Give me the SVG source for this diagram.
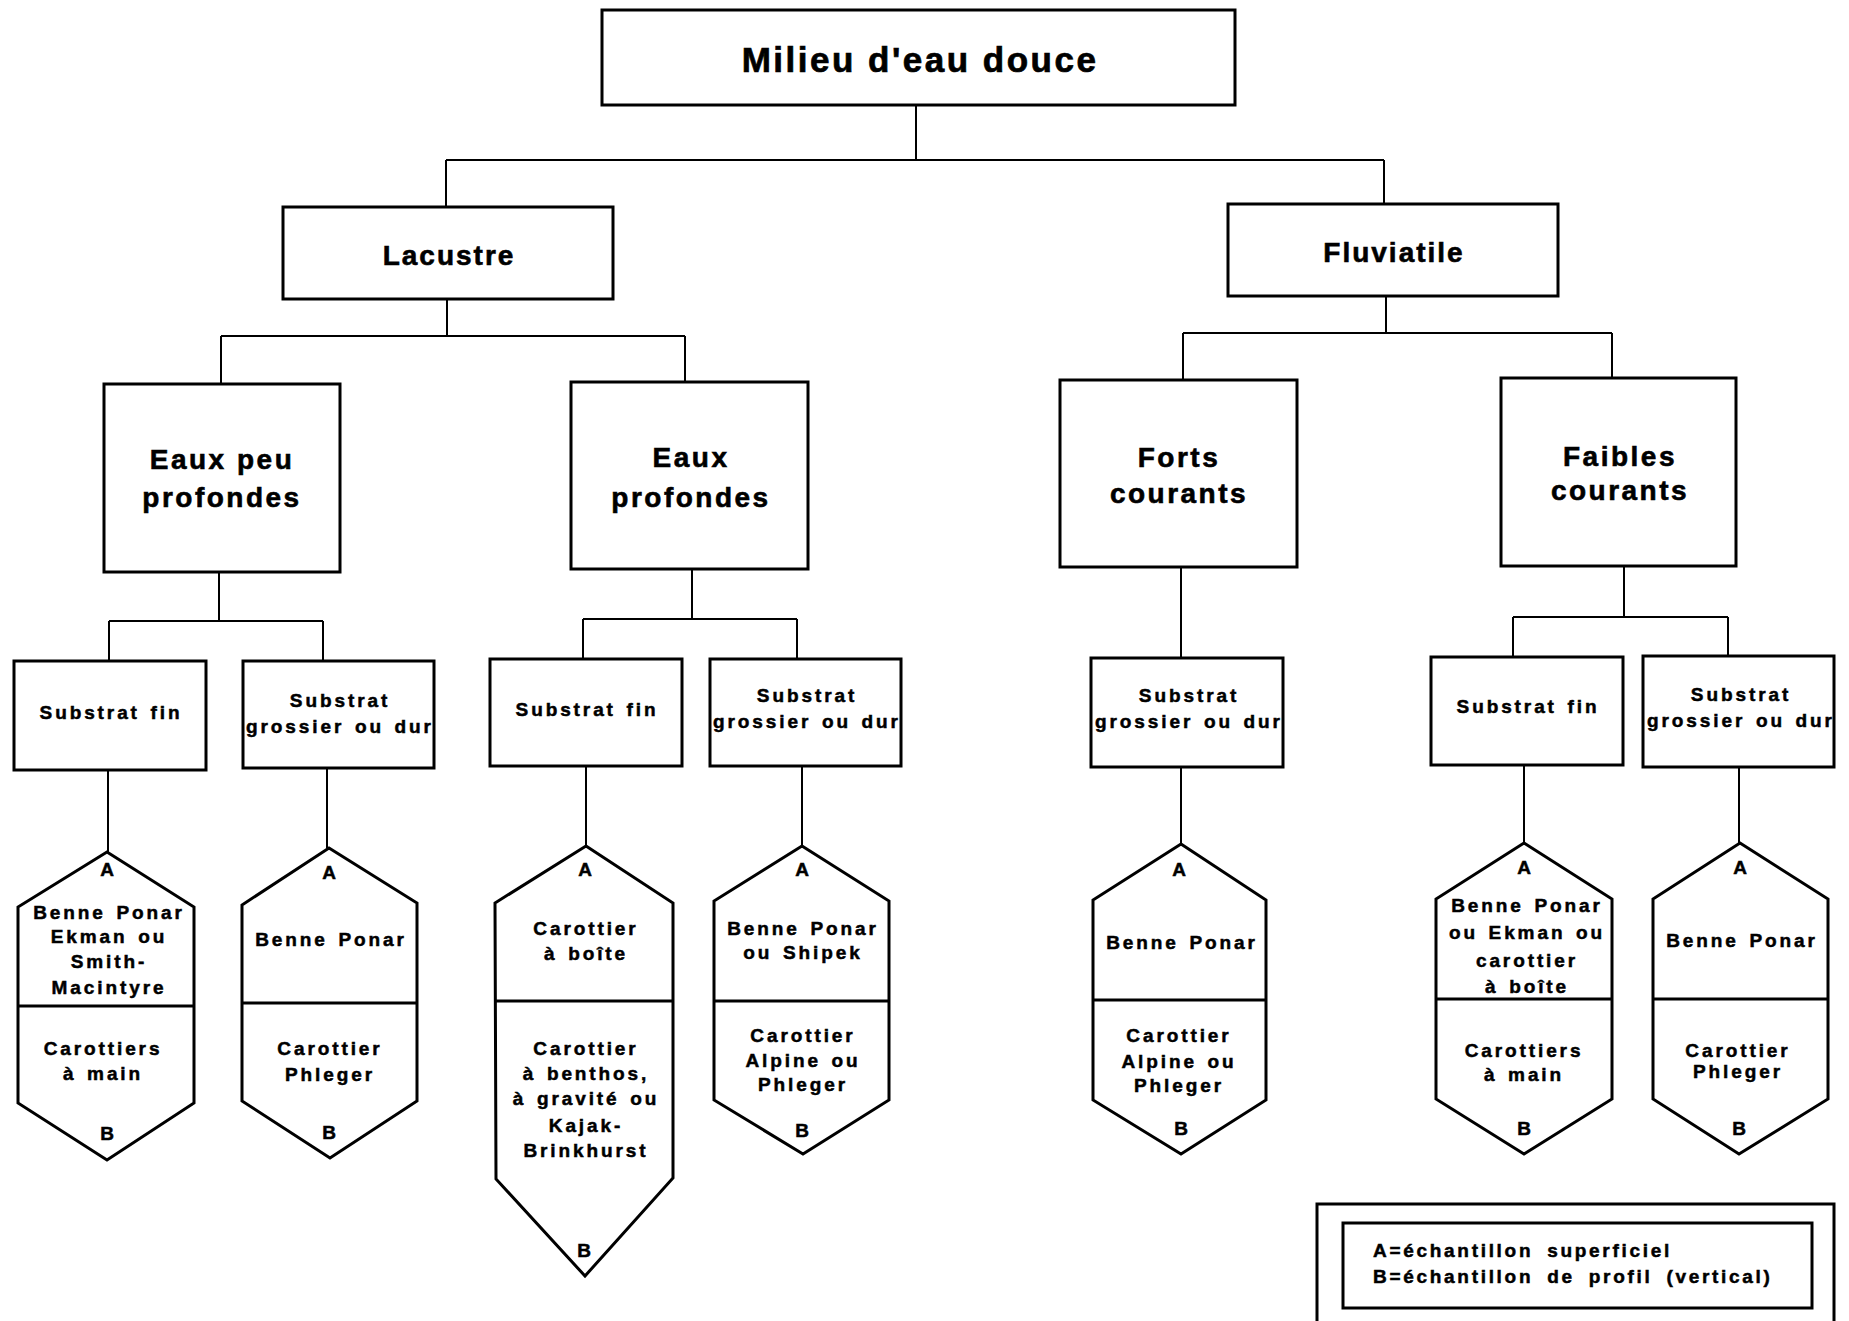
<svg xmlns="http://www.w3.org/2000/svg" width="1849" height="1321" viewBox="0 0 1849 1321">
  <style>
    .box { fill: #fff; stroke: #000; stroke-width: 3; }
    .hex { fill: #fff; stroke: #000; stroke-width: 3; stroke-linejoin: miter; }
    .div { stroke: #000; stroke-width: 3; }
    .link { fill: none; stroke: #000; stroke-width: 2; }
    text { font-family: "Liberation Sans", Arial, Helvetica, sans-serif; font-weight: bold; fill: #000; stroke: #000; stroke-width: 0.5; text-anchor: middle; }
    .t1 { font-size: 35px; letter-spacing: 2.5px; stroke-width: 0.7; }
    .t2 { font-size: 28px; letter-spacing: 2px; stroke-width: 0.6; }
    .t3 { font-size: 28px; letter-spacing: 2.5px; stroke-width: 0.6; }
    .t4 { font-size: 19px; letter-spacing: 2.9px; word-spacing: 2.5px; }
    .ab { font-size: 19px; }
    .leg { font-size: 19px; letter-spacing: 2.7px; word-spacing: 6px; text-anchor: start; }
  </style>
  <rect width="1849" height="1321" fill="#fff"/>

  <!-- tree connectors -->
  <g id="connectors">
    <path class="link" d="M916,105 V160 M446,160 H1384 M446,160 V207 M1384,160 V204"/>
    <path class="link" d="M447,299 V336 M221,336 H685 M221,336 V384 M685,336 V382"/>
    <path class="link" d="M1386,296 V333 M1183,333 H1612 M1183,333 V380 M1612,333 V378"/>
    <path class="link" d="M219,572 V621 M109,621 H323 M109,621 V662 M323,621 V661"/>
    <path class="link" d="M692,569 V619 M583,619 H797 M583,619 V659 M797,619 V659"/>
    <path class="link" d="M1181,567 V658"/>
    <path class="link" d="M1624,566 V617 M1513,617 H1728 M1513,617 V657 M1728,617 V656"/>
    <path class="link" d="M108,770 V852 M327,768 V848 M586,766 V846 M802,766 V846 M1181,767 V844 M1524,765 V843 M1739,767 V843"/>
  </g>

  <!-- root -->
  <g id="milieu">
    <rect class="box" x="602" y="10" width="633" height="95"/>
    <text class="t1" x="920" y="72">Milieu d'eau douce</text>
  </g>

  <!-- second level -->
  <g id="lacustre">
    <rect class="box" x="283" y="207" width="330" height="92"/>
    <text class="t2" x="449" y="265">Lacustre</text>
  </g>
  <g id="fluviatile">
    <rect class="box" x="1228" y="204" width="330" height="92"/>
    <text class="t2" x="1394" y="262">Fluviatile</text>
  </g>

  <!-- third level -->
  <g id="eaux-peu-profondes">
    <rect class="box" x="104" y="384" width="236" height="188"/>
    <text class="t3" x="222" y="469">Eaux peu</text>
    <text class="t3" x="222" y="507">profondes</text>
  </g>
  <g id="eaux-profondes">
    <rect class="box" x="571" y="382" width="237" height="187"/>
    <text class="t3" x="691" y="467">Eaux</text>
    <text class="t3" x="691" y="507">profondes</text>
  </g>
  <g id="forts-courants">
    <rect class="box" x="1060" y="380" width="237" height="187"/>
    <text class="t3" x="1179" y="467">Forts</text>
    <text class="t3" x="1179" y="503">courants</text>
  </g>
  <g id="faibles-courants">
    <rect class="box" x="1501" y="378" width="235" height="188"/>
    <text class="t3" x="1620" y="466">Faibles</text>
    <text class="t3" x="1620" y="500">courants</text>
  </g>

  <!-- substrate level -->
  <g id="lac-peu-fin">
    <rect class="box" x="14" y="661" width="192" height="109"/>
    <text class="t4" x="111" y="719">Substrat fin</text>
  </g>
  <g id="lac-peu-grossier">
    <rect class="box" x="243" y="661" width="191" height="107"/>
    <text class="t4" x="340" y="707">Substrat</text>
    <text class="t4" x="340" y="733">grossier ou dur</text>
  </g>
  <g id="lac-prof-fin">
    <rect class="box" x="490" y="659" width="192" height="107"/>
    <text class="t4" x="587" y="716">Substrat fin</text>
  </g>
  <g id="lac-prof-grossier">
    <rect class="box" x="710" y="659" width="191" height="107"/>
    <text class="t4" x="807" y="702">Substrat</text>
    <text class="t4" x="807" y="728">grossier ou dur</text>
  </g>
  <g id="flu-forts-grossier">
    <rect class="box" x="1091" y="658" width="192" height="109"/>
    <text class="t4" x="1189" y="702">Substrat</text>
    <text class="t4" x="1189" y="728">grossier ou dur</text>
  </g>
  <g id="flu-faibles-fin">
    <rect class="box" x="1431" y="657" width="192" height="108"/>
    <text class="t4" x="1528" y="713">Substrat fin</text>
  </g>
  <g id="flu-faibles-grossier">
    <rect class="box" x="1643" y="656" width="191" height="111"/>
    <text class="t4" x="1741" y="701">Substrat</text>
    <text class="t4" x="1741" y="727">grossier ou dur</text>
  </g>

  <!-- sampler hexagons: A = surface sample (top), B = profile sample (bottom) -->
  <g id="samp-1">
    <path class="hex" d="M107,852 L194,907 L194,1103 L107,1160 L18,1103 L18,907 Z"/>
    <line class="div" x1="18" y1="1006" x2="194" y2="1006"/>
    <text class="ab" x="107" y="876">A</text>
    <text class="t4" x="109" y="919">Benne Ponar</text>
    <text class="t4" x="109" y="943">Ekman ou</text>
    <text class="t4" x="109" y="968">Smith-</text>
    <text class="t4" x="109" y="994">Macintyre</text>
    <text class="t4" x="103" y="1055">Carottiers</text>
    <text class="t4" x="103" y="1080">à main</text>
    <text class="ab" x="107" y="1140">B</text>
  </g>
  <g id="samp-2">
    <path class="hex" d="M329,848 L417,903 L417,1101 L330,1158 L242,1101 L242,905 Z"/>
    <line class="div" x1="242" y1="1003" x2="417" y2="1003"/>
    <text class="ab" x="329" y="879">A</text>
    <text class="t4" x="331" y="946">Benne Ponar</text>
    <text class="t4" x="330" y="1055">Carottier</text>
    <text class="t4" x="330" y="1081">Phleger</text>
    <text class="ab" x="329" y="1139">B</text>
  </g>
  <g id="samp-3">
    <path class="hex" d="M586,846 L673,903 L673,1178 L585,1276 L496,1179 L495,903 Z"/>
    <line class="div" x1="495" y1="1001" x2="673" y2="1001"/>
    <text class="ab" x="585" y="876">A</text>
    <text class="t4" x="586" y="935">Carottier</text>
    <text class="t4" x="586" y="960">à boîte</text>
    <text class="t4" x="586" y="1055">Carottier</text>
    <text class="t4" x="586" y="1080">à benthos,</text>
    <text class="t4" x="586" y="1105">à gravité ou</text>
    <text class="t4" x="586" y="1132">Kajak-</text>
    <text class="t4" x="586" y="1157">Brinkhurst</text>
    <text class="ab" x="584" y="1257">B</text>
  </g>
  <g id="samp-4">
    <path class="hex" d="M802,846 L889,901 L889,1100 L803,1154 L714,1100 L714,901 Z"/>
    <line class="div" x1="714" y1="1001" x2="889" y2="1001"/>
    <text class="ab" x="802" y="876">A</text>
    <text class="t4" x="803" y="935">Benne Ponar</text>
    <text class="t4" x="803" y="959">ou Shipek</text>
    <text class="t4" x="803" y="1042">Carottier</text>
    <text class="t4" x="803" y="1067">Alpine ou</text>
    <text class="t4" x="803" y="1091">Phleger</text>
    <text class="ab" x="802" y="1137">B</text>
  </g>
  <g id="samp-5">
    <path class="hex" d="M1181,844 L1266,900 L1266,1100 L1181,1154 L1093,1100 L1093,900 Z"/>
    <line class="div" x1="1093" y1="1000" x2="1266" y2="1000"/>
    <text class="ab" x="1179" y="876">A</text>
    <text class="t4" x="1182" y="949">Benne Ponar</text>
    <text class="t4" x="1179" y="1042">Carottier</text>
    <text class="t4" x="1179" y="1068">Alpine ou</text>
    <text class="t4" x="1179" y="1092">Phleger</text>
    <text class="ab" x="1181" y="1135">B</text>
  </g>
  <g id="samp-6">
    <path class="hex" d="M1524,843 L1612,899 L1612,1099 L1524,1154 L1436,1099 L1436,899 Z"/>
    <line class="div" x1="1436" y1="999" x2="1612" y2="999"/>
    <text class="ab" x="1524" y="874">A</text>
    <text class="t4" x="1527" y="912">Benne Ponar</text>
    <text class="t4" x="1527" y="939">ou Ekman ou</text>
    <text class="t4" x="1527" y="967">carottier</text>
    <text class="t4" x="1527" y="993">à boîte</text>
    <text class="t4" x="1524" y="1057">Carottiers</text>
    <text class="t4" x="1524" y="1081">à main</text>
    <text class="ab" x="1524" y="1135">B</text>
  </g>
  <g id="samp-7">
    <path class="hex" d="M1740,843 L1828,899 L1828,1099 L1739,1154 L1653,1099 L1653,899 Z"/>
    <line class="div" x1="1653" y1="999" x2="1828" y2="999"/>
    <text class="ab" x="1740" y="874">A</text>
    <text class="t4" x="1742" y="947">Benne Ponar</text>
    <text class="t4" x="1738" y="1057">Carottier</text>
    <text class="t4" x="1738" y="1078">Phleger</text>
    <text class="ab" x="1739" y="1135">B</text>
  </g>

  <!-- key -->
  <g id="legend">
    <rect class="box" x="1317" y="1204" width="517" height="140"/>
    <rect class="box" x="1343" y="1223" width="469" height="85"/>
    <text class="leg" x="1373" y="1257">A=échantillon superficiel</text>
    <text class="leg" x="1373" y="1283">B=échantillon de profil (vertical)</text>
  </g>
</svg>
